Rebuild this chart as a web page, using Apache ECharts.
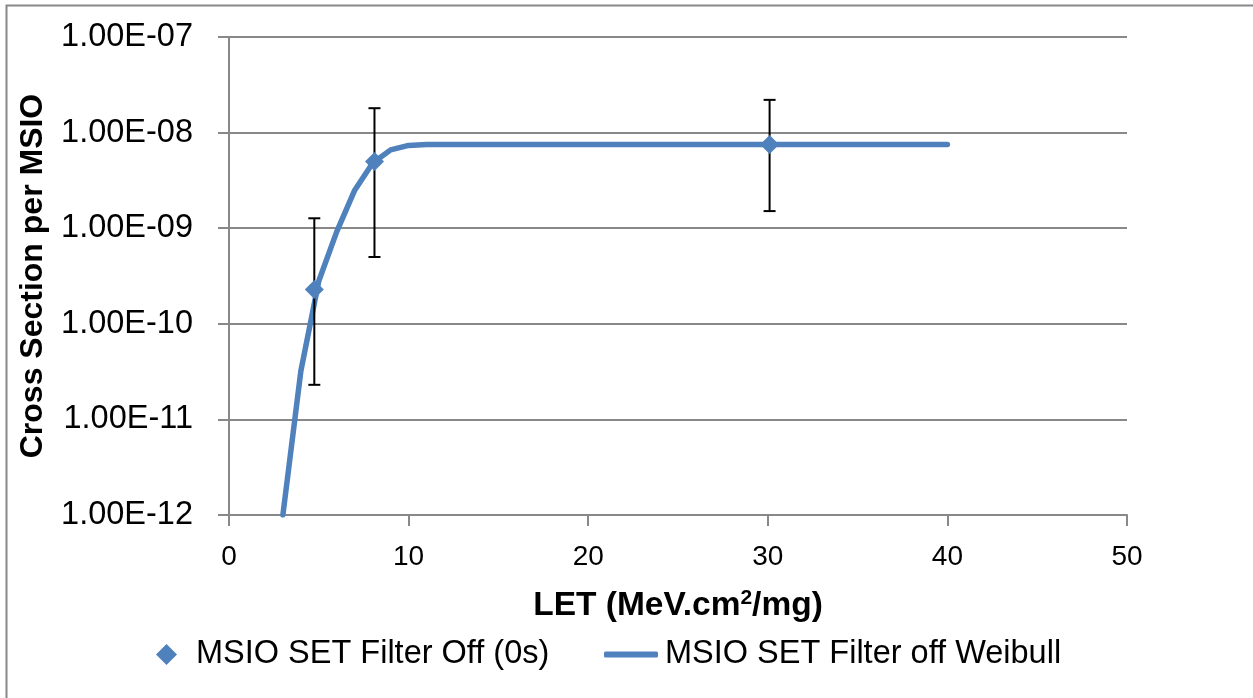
<!DOCTYPE html>
<html><head><meta charset="utf-8">
<script src="https://cdn.jsdelivr.net/npm/echarts@6/dist/echarts.min.js"></script>
<style>html,body{margin:0;padding:0;background:#fff}#c{width:1253px;height:698px}</style>
</head><body><div id="c"></div>
<script>
// Measured data (LET, cross section) with error bars
const pointLET = [4.75, 8.1, 30.1];
const pointCS = [2.28e-10, 5.0e-9, 7.5e-9];
const pointLow = [2.3e-11, 5.0e-10, 1.51e-9];
const pointHigh = [1.27e-9, 1.8e-8, 2.2e-8];
// Weibull fit curve
const weibullLET = [3,4,5,6,7,8,9,10,11,12,13,14,15,16,17,18,19,20,21,22,23,24,25,26,27,28,29,30,31,32,33,34,35,36,37,38,39,40];
const weibullCS = [1.0e-12,3.2e-11,2.8e-10,9.2e-10,2.5e-9,4.8e-9,6.6e-9,7.35e-9,7.5e-9,7.5e-9,7.5e-9,7.5e-9,7.5e-9,7.5e-9,7.5e-9,7.5e-9,7.5e-9,7.5e-9,7.5e-9,7.5e-9,7.5e-9,7.5e-9,7.5e-9,7.5e-9,7.5e-9,7.5e-9,7.5e-9,7.5e-9,7.5e-9,7.5e-9,7.5e-9,7.5e-9,7.5e-9,7.5e-9,7.5e-9,7.5e-9,7.5e-9,7.5e-9];
const yTickLabels = ['1.00E-12','1.00E-11','1.00E-10','1.00E-09','1.00E-08','1.00E-07'];
const seriesNames = ['MSIO SET Filter Off (0s)', 'MSIO SET Filter off Weibull'];

const blue = '#4F81BD';
const font = 'Liberation Sans';
const chart = echarts.init(document.getElementById('c'));
const pts = pointLET.map((x,i)=>[x, pointCS[i]]);
const errs = pointLET.map((x,i)=>[x, pointLow[i], pointHigh[i]]);
const line = weibullLET.map((x,i)=>[x, weibullCS[i]]);
const legendText = {fontFamily:font, fontSize:32.5, color:'#000'};
chart.setOption({
  animation:false,
  backgroundColor:'#fff',
  graphic:[{type:'rect', shape:{x:6.5,y:5.5,width:1400,height:900}, style:{fill:null, stroke:'#888', lineWidth:2}, silent:true}],
  grid:{left:229, right:126, top:37, bottom:183},
  xAxis:{type:'value', min:0, max:50, interval:10,
    name:'{b|LET (MeV.cm}{s|2}{b|/mg)}', nameLocation:'middle', nameGap:73,
    nameTextStyle:{rich:{b:{fontFamily:font, fontWeight:'bold', fontSize:33.5, color:'#000'}, s:{fontFamily:font, fontWeight:'bold', fontSize:21, color:'#000', verticalAlign:'top', padding:[0,0,14,0]}}},
    axisLine:{show:true, lineStyle:{color:'#888', width:2}},
    axisTick:{show:true, inside:false, length:11, lineStyle:{color:'#888', width:2}},
    axisLabel:{fontFamily:font, fontSize:28, color:'#000', margin:28},
    splitLine:{show:false}},
  yAxis:{type:'log', logBase:10, min:1e-12, max:1e-7,
    name:'Cross Section per MSIO', nameLocation:'middle', nameGap:180, nameRotate:90,
    nameTextStyle:{fontFamily:font, fontWeight:'bold', fontSize:32, color:'#000'},
    axisLine:{show:true, lineStyle:{color:'#888', width:2}},
    axisTick:{show:true, length:11, lineStyle:{color:'#888', width:2}},
    axisLabel:{fontFamily:font, fontSize:32.5, color:'#000', margin:36,
      formatter:(v)=>{const e=Math.round(Math.log10(v)); return yTickLabels[e+12];}},
    splitLine:{show:true, lineStyle:{color:'#888', width:2}},
    minorTick:{show:false}},
  legend:[
    {top:633, left:151, itemWidth:21, itemHeight:21, textStyle:Object.assign({padding:[0,0,0,14]}, legendText),
      data:[{name:seriesNames[0], icon:'diamond', itemStyle:{color:blue, opacity:1}}]},
    {top:633, left:599, itemWidth:54, itemHeight:6, textStyle:Object.assign({padding:[0,0,0,2]}, legendText),
      data:[{name:seriesNames[1], icon:'roundRect', itemStyle:{color:blue}}]}
  ],
  series:[
    {name:seriesNames[1], type:'line', data:line, showSymbol:false, symbol:'none',
      lineStyle:{color:blue, width:5.5, cap:'round', join:'round'}, itemStyle:{color:blue}, z:2},
    {name:'errorbars', type:'custom', data:errs, z:3,
      renderItem:(params, api)=>{
        const x=api.value(0); const lo=api.coord([x, api.value(1)]); const hi=api.coord([x, api.value(2)]);
        const w=6; const st={stroke:'#000', lineWidth:2};
        return {type:'group', children:[
          {type:'line', shape:{x1:lo[0],y1:lo[1],x2:hi[0],y2:hi[1]}, style:st},
          {type:'line', shape:{x1:lo[0]-w,y1:lo[1],x2:lo[0]+w,y2:lo[1]}, style:st},
          {type:'line', shape:{x1:hi[0]-w,y1:hi[1],x2:hi[0]+w,y2:hi[1]}, style:st}]};
      }},
    {name:seriesNames[0], type:'scatter', data:pts, symbol:'diamond', symbolSize:19,
      itemStyle:{color:blue, opacity:1}, z:4}
  ]
});
</script></body></html>
